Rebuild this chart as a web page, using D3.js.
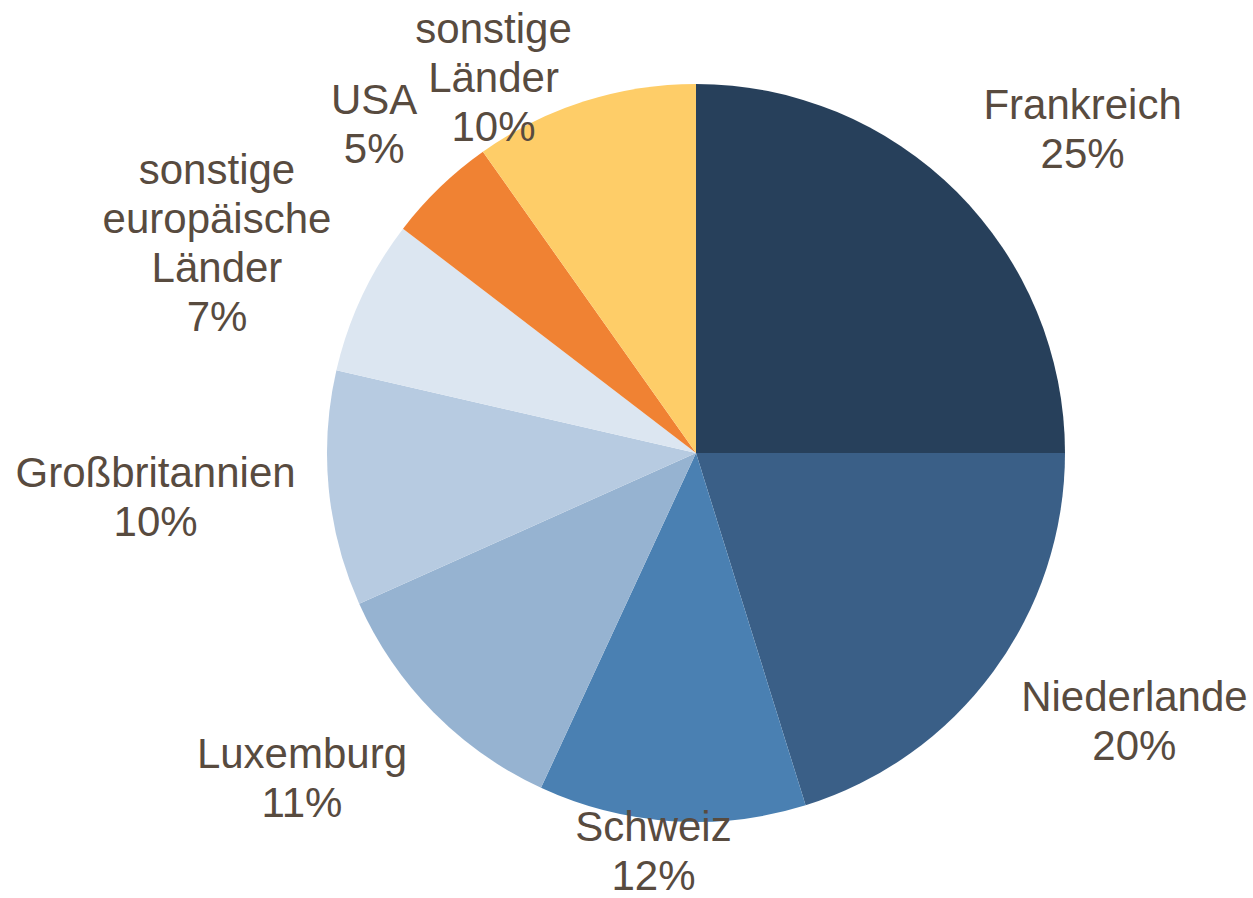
<!DOCTYPE html>
<html>
<head>
<meta charset="utf-8">
<script src="https://cdn.jsdelivr.net/npm/d3@7"></script>
<style>
  html, body { margin: 0; padding: 0; background: #fff; }
  svg { display: block; }
  .lbl { font-family: "Liberation Sans", Arial, sans-serif; font-size: 42px; fill: #584b3f; }
</style>
</head>
<body>
<svg id="chart" width="1253" height="898"></svg>
<script>
// Anteile nach Ländern, im Uhrzeigersinn ab 12 Uhr
const countries = ['Frankreich', 'Niederlande', 'Schweiz', 'Luxemburg', 'Großbritannien',
  'sonstige europäische Länder', 'USA', 'sonstige Länder'];
const shares = [25.0, 20.2, 11.7, 11.4, 10.3, 6.8, 4.8, 9.8];
// Zeilenumbrüche der Beschriftungen wie im Original
const labelLines = [
  ['Frankreich'], ['Niederlande'], ['Schweiz'], ['Luxemburg'], ['Großbritannien'],
  ['sonstige', 'europäische', 'Länder'], ['USA'], ['sonstige', 'Länder']
];
const colors = ['#27405b', '#3a5f87', '#4a80b2', '#96b3d1', '#b7cbe1', '#dce6f1', '#f08233', '#fecd68'];

const W = 1253, H = 898;
const cx = 696, cy = 453, r = 369;
const lineH = 49, pad = 46;
// small hand tweaks so labels sit where Excel's best-fit put them
const labelNudge = [[23, 5], [13, -6], [-10, 3], [-24, 0], [12, 0], [0, 9], [-4, 6], [-53, 5]];

const svg = d3.select('#chart');
const g = svg.append('g').attr('transform', `translate(${cx},${cy})`);

const pie = d3.pie().sort(null).value(d => d.v);
const arcs = pie(shares.map((v, i) => ({ v, i })));
const arc = d3.arc().innerRadius(0).outerRadius(r);

g.selectAll('path').data(arcs).join('path')
  .attr('d', arc)
  .attr('fill', d => colors[d.data.i]);

// --- Labels ---
const labels = svg.append('g').selectAll('text').data(arcs).join('text')
  .attr('class', 'lbl')
  .attr('text-anchor', 'middle');

labels.each(function(d) {
  const lines = labelLines[d.data.i].concat([Math.round(shares[d.data.i]) + '%']);
  const t = d3.select(this);
  lines.forEach((s, k) => t.append('tspan').attr('x', 0).attr('dy', k === 0 ? 0 : lineH).text(s));
});

labels.each(function(d) {
  const n = labelLines[d.data.i].length + 1;
  const bb = this.getBBox();
  const w = bb.width, h = lineH * n;
  const a = (d.startAngle + d.endAngle) / 2;
  const sx = Math.sin(a), sy = -Math.cos(a);
  // nearest box edge touches the anchor point just outside the pie
  let x = cx + sx * (r + pad) + sx * w / 2;
  let y = cy + sy * (r + pad) + sy * h / 2;
  x = Math.max(w / 2, Math.min(W - w / 2, x));
  y = Math.max(h / 2, Math.min(H - h / 2, y));
  const [nx, ny] = labelNudge[d.data.i];
  const top = y - h / 2;
  d3.select(this).attr('transform', `translate(${x + nx},${top + lineH * 0.78 + ny})`);
});
</script>
</body>
</html>
